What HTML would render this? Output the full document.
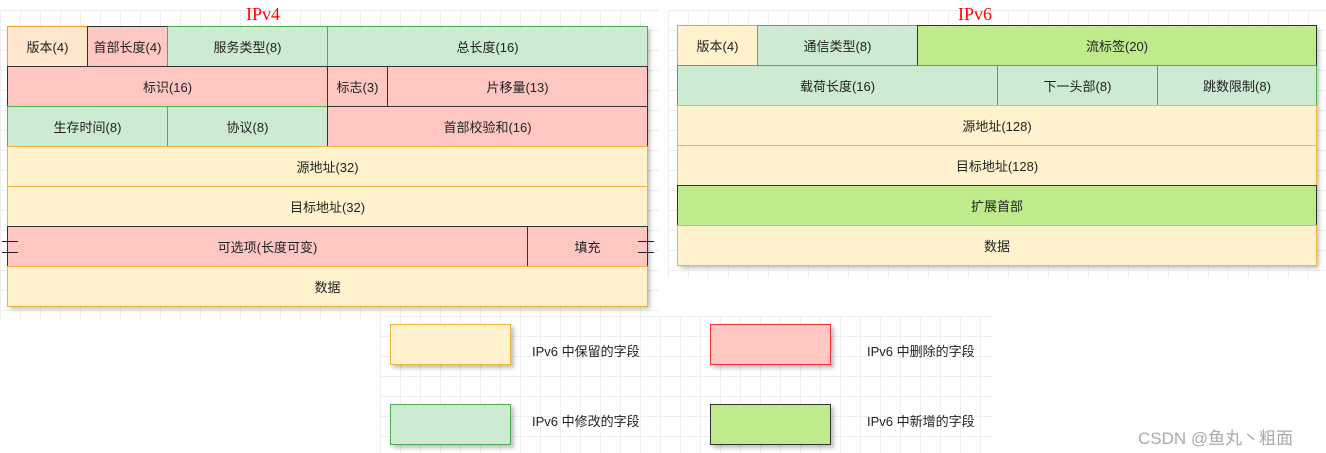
<!DOCTYPE html>
<html><head><meta charset="utf-8"><style>
body{margin:0;width:1326px;height:453px;background:#fff;position:relative;overflow:hidden;font-family:"Liberation Sans","Noto Sans CJK SC",sans-serif;}
.grid{position:absolute;background-image:linear-gradient(#eee 1px,transparent 1px),linear-gradient(90deg,#eee 1px,transparent 1px);background-size:20px 20px;}
.b{position:absolute;box-sizing:border-box;display:flex;align-items:center;justify-content:center;font-size:13px;color:#222;white-space:nowrap;}
.y{background:#fff2cc;border:1px solid #f0b43c;}
.o{background:#ffe6cc;border:1px solid #f0a030;}
.r{background:#ffc7c2;border:1px solid #333;}
.g{background:#cdebd3;border:1px solid #4caf50;}
.n{background:#c0eb8c;border:1px solid #333;}
.sh{position:absolute;box-shadow:3px 3px 4px rgba(0,0,0,.25);}
.t{position:absolute;color:red;font-family:"Liberation Serif",serif;font-size:18px;}
.l{position:absolute;font-size:13px;color:#222;}
</style></head><body>
<div class="grid" style="left:0;top:10px;width:660px;height:310px"></div>
<div class="grid" style="left:668px;top:10px;width:658px;height:268px"></div>
<div class="grid" style="left:380px;top:316px;width:612px;height:137px"></div>
<div class="t" style="left:246px;top:4px">IPv4</div>
<div class="t" style="left:958px;top:4px">IPv6</div>
<div class="sh" style="left:7px;top:26px;width:640px;height:280px"></div>
<div class="b o" style="left:7px;top:26px;width:81px;height:41px">版本(4)</div>
<div class="b r" style="left:87px;top:26px;width:81px;height:41px">首部长度(4)</div>
<div class="b g" style="left:167px;top:26px;width:161px;height:41px">服务类型(8)</div>
<div class="b g" style="left:327px;top:26px;width:321px;height:41px">总长度(16)</div>
<div class="b r" style="left:7px;top:66px;width:321px;height:41px">标识(16)</div>
<div class="b r" style="left:327px;top:66px;width:61px;height:41px">标志(3)</div>
<div class="b r" style="left:387px;top:66px;width:261px;height:41px">片移量(13)</div>
<div class="b g" style="left:7px;top:106px;width:161px;height:41px">生存时间(8)</div>
<div class="b g" style="left:167px;top:106px;width:161px;height:41px">协议(8)</div>
<div class="b r" style="left:327px;top:106px;width:321px;height:41px">首部校验和(16)</div>
<div class="b y" style="left:7px;top:146px;width:641px;height:41px">源地址(32)</div>
<div class="b y" style="left:7px;top:186px;width:641px;height:41px">目标地址(32)</div>
<div class="b r" style="left:7px;top:226px;width:521px;height:41px;border-right:1px solid #333">可选项(长度可变)</div>
<div class="b r" style="left:527px;top:226px;width:121px;height:41px">填充</div>
<div style="position:absolute;left:2px;top:241px;width:16px;height:10px;border-top:1px solid #222;border-bottom:1px solid #222"></div>
<div style="position:absolute;left:638px;top:241px;width:16px;height:10px;border-top:1px solid #222;border-bottom:1px solid #222"></div>
<div class="b y" style="left:7px;top:266px;width:641px;height:41px">数据</div>

<div class="sh" style="left:677px;top:25px;width:639px;height:240px"></div>
<div class="b o" style="left:677px;top:25px;width:81px;height:41px;background:#fff2cc">版本(4)</div>
<div class="b g" style="left:757px;top:25px;width:161px;height:41px">通信类型(8)</div>
<div class="b n" style="left:917px;top:25px;width:400px;height:41px">流标签(20)</div>
<div class="b g" style="left:677px;top:65px;width:321px;height:41px">载荷长度(16)</div>
<div class="b g" style="left:997px;top:65px;width:161px;height:41px">下一头部(8)</div>
<div class="b g" style="left:1157px;top:65px;width:160px;height:41px">跳数限制(8)</div>
<div class="b y" style="left:677px;top:105px;width:640px;height:41px">源地址(128)</div>
<div class="b y" style="left:677px;top:145px;width:640px;height:41px">目标地址(128)</div>
<div class="b n" style="left:677px;top:185px;width:640px;height:41px">扩展首部</div>
<div class="b y" style="left:677px;top:225px;width:640px;height:41px">数据</div>

<div class="b y sh" style="left:390px;top:324px;width:121px;height:41px"></div>
<div class="b sh" style="left:710px;top:324px;width:121px;height:41px;background:#ffc7c2;border:1px solid #e33"></div>
<div class="b g sh" style="left:390px;top:404px;width:121px;height:41px"></div>
<div class="b n sh" style="left:710px;top:404px;width:121px;height:41px"></div>
<div class="l" style="left:532px;top:341px">IPv6 中保留的字段</div>
<div class="l" style="left:867px;top:341px">IPv6 中删除的字段</div>
<div class="l" style="left:532px;top:411px">IPv6 中修改的字段</div>
<div class="l" style="left:867px;top:411px">IPv6 中新增的字段</div>
<div class="l" style="left:1138px;top:424px;font-size:17px;color:#aaa">CSDN @鱼丸丶粗面</div>
</body></html>
